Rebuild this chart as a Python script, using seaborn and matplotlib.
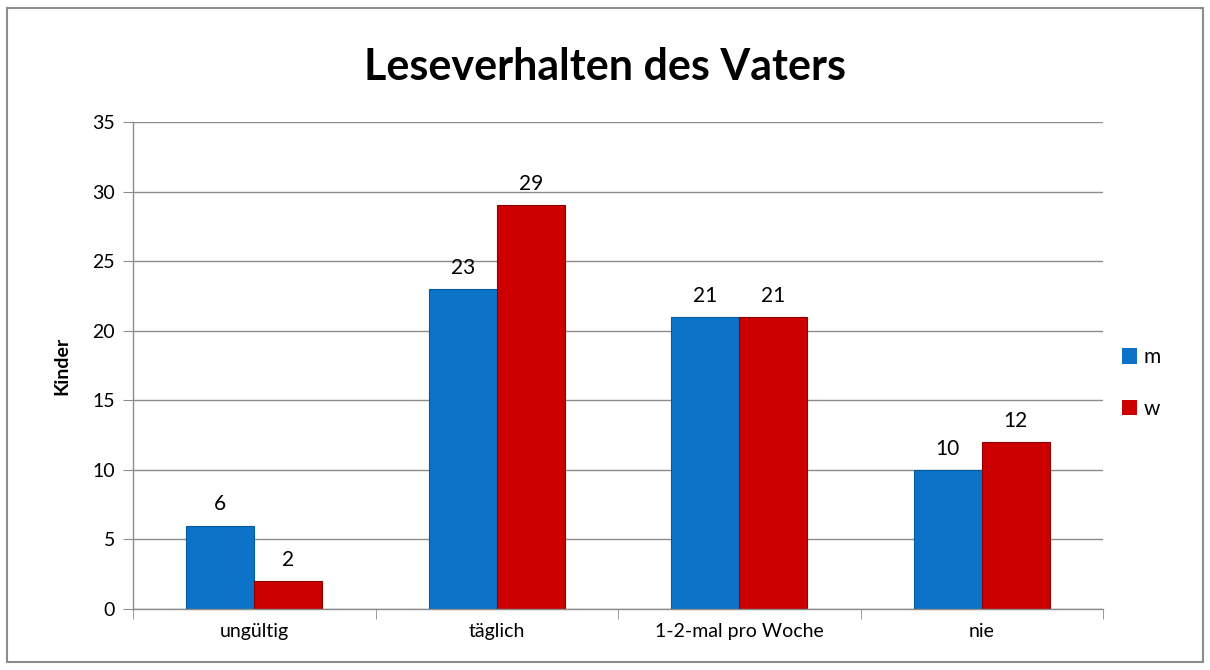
import matplotlib
matplotlib.use("Agg")
import matplotlib.pyplot as plt
import seaborn as sns
import pandas as pd
import numpy as np
from matplotlib.patches import Rectangle

# Data
kategorien = ['ungültig', 'täglich', '1-2-mal pro Woche', 'nie']
werte_m = [6, 23, 21, 10]
werte_w = [2, 29, 21, 12]
geschlecht = ['m', 'w']

df = pd.DataFrame({
    'Kategorie': kategorien * 2,
    'Geschlecht': ['m'] * len(kategorien) + ['w'] * len(kategorien),
    'Kinder': werte_m + werte_w,
})

sns.set_style('white')
plt.rcParams['font.family'] = ['Lato', 'DejaVu Sans']
plt.rcParams['text.color'] = 'black'
plt.rcParams['axes.labelcolor'] = 'black'
plt.rcParams['xtick.color'] = 'black'
plt.rcParams['ytick.color'] = 'black'

farben = {'m': '#0B74C8', 'w': '#CC0000'}
grau = '#8C8C8C'

fig = plt.figure(figsize=(12.1, 6.7), dpi=100)
ax = fig.add_axes([0.110, 0.091, 0.8016, 0.727])

sns.barplot(data=df, x='Kategorie', y='Kinder', hue='Geschlecht', order=kategorien,
            hue_order=geschlecht, palette=farben, width=0.56, dodge=True, saturation=1,
            edgecolor='none', linewidth=0, ax=ax, legend=True)

# etwas dunklerer Rand wie im Original
for cont, rand in zip(ax.containers, ['#075A9C', '#8E0000']):
    for b in cont:
        b.set_edgecolor(rand)
        b.set_linewidth(0.8)
    ax.bar_label(cont, padding=8, fontsize=15, color='black')

ax.set_ylim(0, 35)
ax.set_yticks(np.arange(0, 36, 5))
ax.set_xlim(-0.5, len(kategorien) - 0.5)
ax.yaxis.grid(True, color=grau, linewidth=1)
ax.set_axisbelow(True)

for s in ['top', 'right']:
    ax.spines[s].set_visible(False)
for s in ['left', 'bottom']:
    ax.spines[s].set_color(grau)
    ax.spines[s].set_linewidth(1)

ax.tick_params(axis='y', length=7, color=grau, labelcolor='black', labelsize=14, pad=6, left=True)
ax.tick_params(axis='x', which='major', length=0, labelcolor='black', labelsize=14, pad=10)
ax.set_xticks(np.arange(-0.5, len(kategorien)), minor=True)
ax.tick_params(axis='x', which='minor', length=7, color=grau, bottom=True)

ax.set_xlabel('')
ax.set_ylabel('Kinder', fontsize=14, fontweight='bold', labelpad=16)
fig.suptitle('Leseverhalten des Vaters', fontsize=31, fontweight='bold', color='black', y=0.93)

leg = ax.legend(loc='center left', bbox_to_anchor=(1.0, 0.464), frameon=False,
                fontsize=15, handlelength=0.75, handleheight=0.75, handletextpad=0.3,
                labelspacing=1.5)
for h, rand in zip(leg.legend_handles, ['#075A9C', '#8E0000']):
    h.set_edgecolor(rand)

fig.patches.append(Rectangle((0.006, 0.012), 0.988, 0.976, transform=fig.transFigure,
                             fill=False, edgecolor=grau, linewidth=1.5))

fig.savefig('out.png', dpi=100)
